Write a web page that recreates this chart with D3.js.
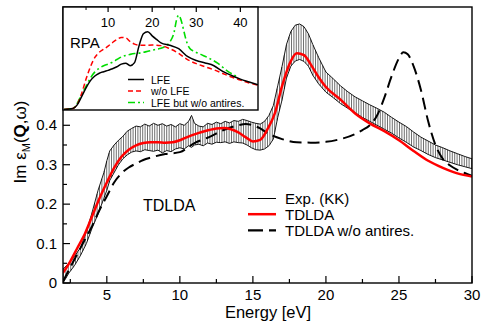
<!DOCTYPE html>
<html>
<head>
<meta charset="utf-8">
<script src="https://cdn.jsdelivr.net/npm/d3@7"></script>
<style>
  body { margin: 0; background: #fff; }
  svg { font-family: "Liberation Sans", Arial, Helvetica, sans-serif; }
</style>
</head>
<body>
<div id="chart"></div>
<script>
// main panel: Im eps_M vs energy
var expE = [2, 2.4, 2.8, 3.2, 3.6, 4.0, 4.4, 4.8, 5.0, 5.2, 5.5, 5.8, 6.1, 6.4, 6.7, 7.0, 7.3, 7.6, 7.9, 8.2, 8.5, 8.8, 9.1, 9.4, 9.7, 10.0,
  10.3, 10.6, 10.8, 11.0, 11.3, 11.6, 11.9, 12.2, 12.5, 12.8, 13.1, 13.4, 13.7, 14.0, 14.3, 14.6, 14.9, 15.2, 15.5, 15.8, 16.1,
  16.4, 16.7, 17.0, 17.3, 17.6, 17.9, 18.2, 18.5, 18.8, 19.1, 19.5, 20, 20.5, 21, 21.5, 22, 22.5, 23, 23.5, 24, 24.5, 25,
  25.5, 26, 26.5, 27, 27.5, 28, 28.5, 29, 29.5, 30];
var expUpper = [0.035, 0.05, 0.068, 0.09, 0.13, 0.18, 0.235, 0.28, 0.31, 0.335, 0.35, 0.362, 0.372, 0.385, 0.392, 0.398, 0.396, 0.403,
  0.398, 0.405, 0.4, 0.404, 0.398, 0.402, 0.396, 0.404, 0.4, 0.41, 0.425, 0.405, 0.398, 0.396, 0.405, 0.402, 0.408, 0.404, 0.41,
  0.406, 0.412, 0.41, 0.415, 0.412, 0.408, 0.405, 0.403, 0.41, 0.425, 0.45, 0.5, 0.55, 0.605, 0.638, 0.654, 0.657, 0.65, 0.632,
  0.605, 0.572, 0.535, 0.518, 0.5, 0.485, 0.472, 0.462, 0.452, 0.443, 0.433, 0.42, 0.408, 0.397, 0.383, 0.37, 0.36, 0.35, 0.343,
  0.335, 0.328, 0.321, 0.315];
var expLower = [0.0, 0.025, 0.045, 0.07, 0.1, 0.14, 0.175, 0.215, 0.235, 0.26, 0.28, 0.3, 0.315, 0.325, 0.332, 0.335, 0.333, 0.338,
  0.336, 0.334, 0.337, 0.33, 0.336, 0.333, 0.34, 0.343, 0.34, 0.348, 0.344, 0.35, 0.352, 0.348, 0.355, 0.352, 0.357, 0.356, 0.358,
  0.354, 0.358, 0.356, 0.355, 0.35, 0.343, 0.338, 0.337, 0.34, 0.348, 0.365, 0.42, 0.465, 0.52, 0.55, 0.563, 0.567, 0.562, 0.55,
  0.527, 0.505, 0.484, 0.47, 0.455, 0.443, 0.432, 0.42, 0.41, 0.4, 0.39, 0.38, 0.368, 0.357, 0.345, 0.336, 0.326, 0.318, 0.312,
  0.306, 0.3, 0.295, 0.29];

var tdE = [2, 2.5, 3, 3.5, 4, 4.5, 5, 5.5, 6, 6.5, 7, 7.5, 8, 8.5, 9, 9.5, 10, 10.5, 11, 11.5, 12, 12.5, 13, 13.5, 14, 14.5, 15,
  15.5, 16, 16.5, 17, 17.5, 18, 18.5, 19, 19.5, 20, 21, 22, 23, 24, 25, 26, 27, 28, 29, 30];
var tdV = [0.026, 0.055, 0.09, 0.125, 0.17, 0.215, 0.255, 0.292, 0.32, 0.338, 0.349, 0.355, 0.357, 0.357, 0.356, 0.357, 0.362,
  0.37, 0.377, 0.383, 0.388, 0.392, 0.393, 0.39, 0.382, 0.37, 0.359, 0.363, 0.39, 0.43, 0.5, 0.555, 0.583, 0.578, 0.552, 0.522,
  0.497, 0.465, 0.43, 0.405, 0.385, 0.362, 0.335, 0.31, 0.292, 0.278, 0.27];

var noarE = [2, 2.5, 3, 3.5, 4, 4.5, 5, 5.5, 6, 6.5, 7, 7.5, 8, 9, 10, 11, 12, 13, 14, 14.5, 15, 15.5, 16, 17, 18, 19, 20, 21, 22,
  22.5, 23, 23.5, 24, 24.5, 25, 25.3, 25.6, 26, 26.5, 27, 27.5, 28, 28.5, 29, 29.5, 30];
var noarV = [0.004, 0.04, 0.075, 0.11, 0.145, 0.185, 0.22, 0.255, 0.278, 0.293, 0.303, 0.312, 0.318, 0.327, 0.332, 0.355, 0.37,
  0.388, 0.4, 0.403, 0.4, 0.392, 0.38, 0.365, 0.357, 0.356, 0.358, 0.365, 0.378, 0.388, 0.4, 0.425, 0.47, 0.525, 0.57, 0.585,
  0.58, 0.55, 0.49, 0.41, 0.35, 0.315, 0.298, 0.287, 0.279, 0.272];

var xTicks = [5, 10, 15, 20, 25, 30];
var yTicks = [0, 0.1, 0.2, 0.3, 0.4];

// inset: RPA
var lfeE = [0, 2, 3, 4, 5, 6, 7, 8, 9, 10, 11, 12, 13, 14, 15, 16, 17, 18, 19, 20, 21, 22, 24, 26, 28, 30, 32, 34, 36, 38, 40, 42, 44];
var lfeV = [0.005, 0.015, 0.05, 0.13, 0.215, 0.285, 0.33, 0.357, 0.372, 0.385, 0.4, 0.42, 0.445, 0.455, 0.43, 0.46, 0.62, 0.74,
  0.76, 0.72, 0.685, 0.652, 0.628, 0.595, 0.52, 0.48, 0.457, 0.43, 0.375, 0.335, 0.3, 0.272, 0.245];
var nolfeE = [0, 2, 3, 4, 5, 6, 7, 8, 9, 10, 11, 12, 13, 14, 15, 16, 17, 18, 20, 22, 24, 26, 28, 30, 32, 34, 36, 38, 40, 42, 44];
var nolfeV = [0.005, 0.015, 0.055, 0.16, 0.3, 0.42, 0.51, 0.56, 0.59, 0.62, 0.655, 0.685, 0.705, 0.7, 0.665, 0.64, 0.63, 0.628,
  0.63, 0.625, 0.595, 0.55, 0.49, 0.45, 0.42, 0.39, 0.355, 0.32, 0.29, 0.262, 0.24];
var lfeNoarE = [0, 2, 3, 4, 5, 6, 7, 8, 9, 10, 11, 12, 13, 14, 15, 16, 17, 18, 19, 20, 21, 22, 23, 24, 25, 25.5, 26, 26.5, 27,
  27.5, 28, 28.5, 29.5, 31, 33, 35, 37, 39];
var lfeNoarV = [0.005, 0.015, 0.065, 0.15, 0.23, 0.31, 0.37, 0.405, 0.43, 0.445, 0.465, 0.49, 0.515, 0.53, 0.54, 0.548, 0.552,
  0.56, 0.57, 0.58, 0.59, 0.6, 0.62, 0.66, 0.76, 0.87, 0.92, 0.88, 0.8, 0.71, 0.64, 0.6, 0.57, 0.54, 0.5, 0.45, 0.38, 0.33];
var insetTicks = [10, 20, 30, 40];

var W = 482, H = 325;
var m = {left: 63, right: 10, top: 7, bottom: 42};

var svg = d3.select("#chart").append("svg").attr("width", W).attr("height", H);

var x = d3.scaleLinear().domain([2, 30]).range([m.left, W - m.right]);
var y = d3.scaleLinear().domain([0, 0.7]).range([H - m.bottom, m.top]);

svg.append("defs").append("clipPath").attr("id", "clip")
  .append("rect").attr("x", x(2)).attr("y", y(0.7)).attr("width", x(30) - x(2)).attr("height", y(0) - y(0.7));

var plot = svg.append("g").attr("clip-path", "url(#clip)");

function zip(xs, ys) { return xs.map(function (e, i) { return [e, ys[i]]; }); }
function interp(xs, ys, e) {
  var i = d3.bisectRight(xs, e);
  if (i <= 0) return ys[0];
  if (i >= xs.length) return ys[ys.length - 1];
  var t = (e - xs[i - 1]) / (xs[i] - xs[i - 1]);
  return ys[i - 1] + t * (ys[i] - ys[i - 1]);
}

var line = d3.line().x(function (d) { return x(d[0]); }).y(function (d) { return y(d[1]); }).curve(d3.curveMonotoneX);
var lineLin = d3.line().x(function (d) { return x(d[0]); }).y(function (d) { return y(d[1]); });

// hatched experimental band (vertical strokes between the two KK curves)
var hatchX = d3.range(Math.round(x(2)) + 0.5, x(30), 2.4);
plot.append("g").attr("stroke", "#333").attr("stroke-width", 0.7)
  .selectAll("line").data(hatchX).enter().append("line")
  .attr("x1", function (px) { return px; }).attr("x2", function (px) { return px; })
  .attr("y1", function (px) { return y(interp(expE, expLower, x.invert(px))); })
  .attr("y2", function (px) { return y(interp(expE, expUpper, x.invert(px))); });
plot.append("path").attr("d", lineLin(zip(expE, expUpper))).attr("fill", "none").attr("stroke", "#000").attr("stroke-width", 0.9);
plot.append("path").attr("d", lineLin(zip(expE, expLower))).attr("fill", "none").attr("stroke", "#000").attr("stroke-width", 0.9);

plot.append("path").attr("d", line(zip(noarE, noarV))).attr("fill", "none").attr("stroke", "#000")
  .attr("stroke-width", 2).attr("stroke-dasharray", "12,6");
plot.append("path").attr("d", line(zip(tdE, tdV))).attr("fill", "none").attr("stroke", "#f00").attr("stroke-width", 2.5);

// axes
var minorX = d3.range(2.5, 30, 5);
var minorY = d3.range(0.05, 0.45, 0.1);
var ax = svg.append("g").attr("stroke", "#000").attr("stroke-width", 1.2);
ax.append("rect").attr("x", x(2)).attr("y", y(0.7)).attr("width", x(30) - x(2)).attr("height", y(0) - y(0.7))
  .attr("fill", "none").attr("stroke-width", 1.4);
ax.selectAll(".xt").data(xTicks).enter().append("line")
  .attr("x1", x).attr("x2", x).attr("y1", y(0)).attr("y2", y(0) - 7);
ax.selectAll(".xm").data(minorX).enter().append("line")
  .attr("x1", x).attr("x2", x).attr("y1", y(0)).attr("y2", y(0) - 4);
ax.selectAll(".yt").data(yTicks).enter().append("line")
  .attr("x1", x(2)).attr("x2", x(2) + 7).attr("y1", y).attr("y2", y);
ax.selectAll(".ym").data(minorY).enter().append("line")
  .attr("x1", x(2)).attr("x2", x(2) + 4).attr("y1", y).attr("y2", y);

svg.selectAll(".xl").data(xTicks).enter().append("text")
  .attr("x", x).attr("y", y(0) + 17).attr("text-anchor", "middle").attr("font-size", 15).text(function (d) { return d; });
svg.selectAll(".yl").data(yTicks).enter().append("text")
  .attr("x", x(2) - 6).attr("y", function (d) { return y(d) + 5; }).attr("text-anchor", "end").attr("font-size", 15)
  .text(function (d) { return d === 0 ? "0" : d3.format(".1f")(d); });

svg.append("text").attr("x", 268).attr("y", 318).attr("text-anchor", "middle").attr("font-size", 16.5).text("Energy [eV]");
var yl = svg.append("text").attr("transform", "translate(26,142) rotate(-90)").attr("text-anchor", "middle").attr("font-size", 17);
yl.append("tspan").text("Im ε");
yl.append("tspan").attr("font-size", 11).attr("dy", 4).text("M");
yl.append("tspan").attr("dy", -4).text("(");
yl.append("tspan").attr("font-weight", "bold").text("Q");
yl.append("tspan").text(",ω)");

svg.append("text").attr("x", 143).attr("y", 211).attr("font-size", 16).text("TDLDA");

// legend
var legLabels = ["Exp. (KK)", "TDLDA", "TDLDA w/o antires."];
var legColors = ["#000", "#f00", "#000"];
var legWidths = [1, 2.5, 2.2];
var legDash = ["none", "none", "15,6"];
var lg = svg.append("g").attr("class", "legend");
legLabels.forEach(function (label, i) {
  var yy = 198 + i * 16.2;
  if (i === 0) {
    lg.append("rect").attr("x", 248).attr("y", Math.round(yy)).attr("width", 28).attr("height", 1).attr("fill", "#000");
  } else {
    lg.append("path").attr("d", "M248," + yy + "H276").attr("fill", "none")
      .attr("stroke", legColors[i]).attr("stroke-width", legWidths[i]).attr("stroke-dasharray", legDash[i]);
  }
  lg.append("text").attr("x", 285).attr("y", yy + 5.5).attr("font-size", 15).text(label);
});

// inset
var ix = d3.scaleLinear().domain([0, 44]).range([64, 258]);
var iy = d3.scaleLinear().domain([0, 1]).range([110, 7]);
var inset = svg.append("g");
inset.append("rect").attr("x", 63).attr("y", 7).attr("width", 258 - 63).attr("height", 110 - 7)
  .attr("fill", "#fff").attr("stroke", "#000").attr("stroke-width", 1.4);
inset.append("defs").append("clipPath").attr("id", "iclip")
  .append("rect").attr("x", 63).attr("y", 7).attr("width", 258 - 63).attr("height", 110 - 7);
var iline = d3.line().x(function (d) { return ix(d[0]); }).y(function (d) { return iy(d[1]); }).curve(d3.curveMonotoneX);
var ig = inset.append("g").attr("clip-path", "url(#iclip)");
ig.append("path").attr("d", iline(zip(lfeNoarE, lfeNoarV))).attr("fill", "none").attr("stroke", "#0d0")
  .attr("stroke-width", 1.6).attr("stroke-dasharray", "7,3,2,3");
ig.append("path").attr("d", iline(zip(nolfeE, nolfeV))).attr("fill", "none").attr("stroke", "#f00")
  .attr("stroke-width", 1.5).attr("stroke-dasharray", "5,3");
ig.append("path").attr("d", iline(zip(lfeE, lfeV))).attr("fill", "none").attr("stroke", "#000").attr("stroke-width", 1.5);

inset.selectAll(".it").data(insetTicks).enter().append("line")
  .attr("x1", ix).attr("x2", ix).attr("y1", 7).attr("y2", 12).attr("stroke", "#000").attr("stroke-width", 1.2);
inset.selectAll(".im").data([5, 15, 25, 35]).enter().append("line")
  .attr("x1", ix).attr("x2", ix).attr("y1", 7).attr("y2", 10).attr("stroke", "#000").attr("stroke-width", 1);
inset.selectAll(".itl").data(insetTicks).enter().append("text")
  .attr("x", ix).attr("y", 27).attr("text-anchor", "middle").attr("font-size", 13).text(function (d) { return d; });
inset.append("text").attr("x", 70).attr("y", 48).attr("font-size", 15).text("RPA");

var ilegLabels = ["LFE", "w/o LFE", "LFE but w/o antires."];
var ilegColors = ["#000", "#f00", "#0d0"];
var ilegDash = ["none", "5,3", "7,3,2,3"];
ilegLabels.forEach(function (label, i) {
  var yy = 79.5 + i * 11.5;
  inset.append("path").attr("d", "M128," + yy + "H144").attr("fill", "none")
    .attr("stroke", ilegColors[i]).attr("stroke-width", 1.5).attr("stroke-dasharray", ilegDash[i]);
  inset.append("text").attr("x", 151).attr("y", yy + 4).attr("font-size", 10.5).text(label);
});
</script>
</body>
</html>
